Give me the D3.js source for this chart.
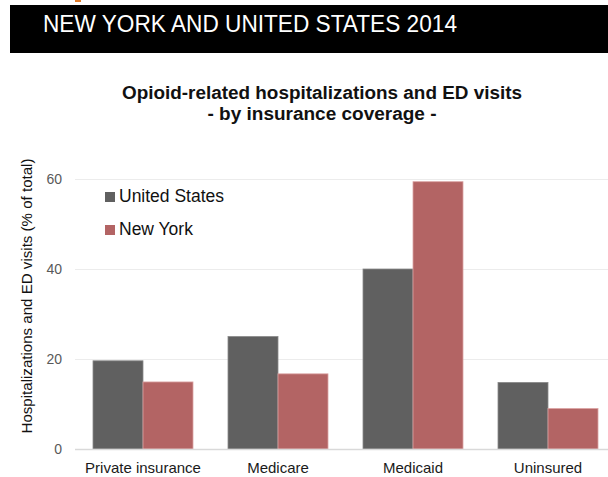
<!DOCTYPE html>
<html>
<head>
<meta charset="utf-8">
<script src="https://cdn.jsdelivr.net/npm/d3@7"></script>
<style>
  body { margin: 0; background: #fff; }
  svg { display: block; font-family: "Liberation Sans", Arial, sans-serif; }
</style>
</head>
<body>
<div id="chart"></div>
<script>
// data
var categories = ["Private insurance", "Medicare", "Medicaid", "Uninsured"];
var seriesNames = ["United States", "New York"];
var usValues = [19.6, 25, 40, 14.8];
var nyValues = [14.9, 16.7, 59.4, 9];
var yTicks = [0, 20, 40, 60];
var colors = ["#606060", "#b36464"];
var strokes = ["#8a8a8a", "#dba3a3"];

var svgWidth = 608;
var svgHeight = 477;

var svg = d3.select("#chart")
    .append("svg")
    .attr("width", svgWidth)
    .attr("height", svgHeight);

// header bar
svg.append("rect")
    .attr("x", 75).attr("y", 0)
    .attr("width", 6).attr("height", 2)
    .attr("fill", "#e07b2a");
svg.append("rect")
    .attr("x", 10).attr("y", 5)
    .attr("width", svgWidth - 10).attr("height", 48)
    .attr("fill", "#000");
svg.append("text")
    .attr("x", 43).attr("y", 32)
    .attr("fill", "#fff")
    .attr("font-size", 23)
    .attr("textLength", 414)
    .attr("lengthAdjust", "spacingAndGlyphs")
    .text("NEW YORK AND UNITED STATES 2014");

// chart title
svg.append("text")
    .attr("x", 322).attr("y", 99)
    .attr("text-anchor", "middle")
    .attr("font-size", 18)
    .attr("font-weight", "bold")
    .attr("fill", "#111")
    .attr("textLength", 400)
    .attr("lengthAdjust", "spacingAndGlyphs")
    .text("Opioid-related hospitalizations and ED visits");
svg.append("text")
    .attr("x", 322).attr("y", 120)
    .attr("text-anchor", "middle")
    .attr("font-size", 18)
    .attr("font-weight", "bold")
    .attr("fill", "#111")
    .attr("textLength", 229)
    .attr("lengthAdjust", "spacingAndGlyphs")
    .text("- by insurance coverage -");

// scales
var x0 = d3.scaleBand()
    .domain(categories)
    .range([75.5, 615.5])
    .paddingInner(0);

var x1 = d3.scaleBand()
    .domain(seriesNames)
    .range([0, x0.bandwidth()])
    .paddingInner(0)
    .paddingOuter(0.35);

var y = d3.scaleLinear()
    .domain([0, 60])
    .range([449, 179]);

// gridlines
svg.append("g")
    .selectAll("line")
    .data(yTicks.filter(d => d > 0))
    .enter()
    .append("line")
    .attr("x1", 75).attr("x2", svgWidth)
    .attr("y1", d => y(d) + 0.5).attr("y2", d => y(d) + 0.5)
    .attr("stroke", "#ececec")
    .attr("stroke-width", 1);

// y tick labels
var yAxis = svg.append("g")
    .attr("transform", "translate(62,0)")
    .call(d3.axisLeft(y).tickValues(yTicks).tickSize(0).tickPadding(0));
yAxis.select(".domain").remove();
yAxis.selectAll("text")
    .attr("font-family", "Liberation Sans, Arial, sans-serif")
    .attr("font-size", 14)
    .attr("fill", "#595959");

// bars
var rows = categories.map(function(c, i) {
    return { cat: c, values: [usValues[i], nyValues[i]] };
});

var groups = svg.append("g")
    .selectAll("g")
    .data(rows)
    .enter()
    .append("g")
    .attr("transform", d => `translate(${x0(d.cat)},0)`);

groups.selectAll("rect")
    .data(d => d.values.map((v, i) => ({ name: seriesNames[i], value: v, idx: i })))
    .enter()
    .append("rect")
    .attr("x", d => x1(d.name))
    .attr("y", d => y(d.value))
    .attr("width", x1.bandwidth())
    .attr("height", d => y(0) - y(d.value))
    .attr("fill", d => colors[d.idx])
    .attr("stroke", d => strokes[d.idx])
    .attr("stroke-width", 0.8);

// baseline
svg.append("line")
    .attr("x1", 75).attr("x2", svgWidth)
    .attr("y1", y(0) + 0.5).attr("y2", y(0) + 0.5)
    .attr("stroke", "#d9d9d9")
    .attr("stroke-width", 1.5);

// x labels
var xAxis = svg.append("g")
    .attr("transform", `translate(0,${y(0)})`)
    .call(d3.axisBottom(x0).tickSize(0).tickPadding(13));
xAxis.select(".domain").remove();
xAxis.selectAll("text")
    .attr("font-family", "Liberation Sans, Arial, sans-serif")
    .attr("font-size", 15)
    .attr("fill", "#1a1a1a");

// y axis title
svg.append("text")
    .attr("transform", "translate(32,296) rotate(-90)")
    .attr("text-anchor", "middle")
    .attr("font-size", 15)
    .attr("fill", "#111")
    .attr("textLength", 275)
    .attr("lengthAdjust", "spacingAndGlyphs")
    .text("Hospitalizations and ED visits (% of total)");

// legend
var legend = svg.append("g")
    .selectAll("g")
    .data(seriesNames)
    .enter()
    .append("g")
    .attr("transform", (d, i) => `translate(105,${192 + i * 33})`);
legend.append("rect")
    .attr("width", 10).attr("height", 10)
    .attr("fill", (d, i) => colors[i]);
legend.append("text")
    .attr("x", 14).attr("y", 10)
    .attr("font-size", 17.5)
    .attr("fill", "#111")
    .text(d => d);
</script>
</body>
</html>
